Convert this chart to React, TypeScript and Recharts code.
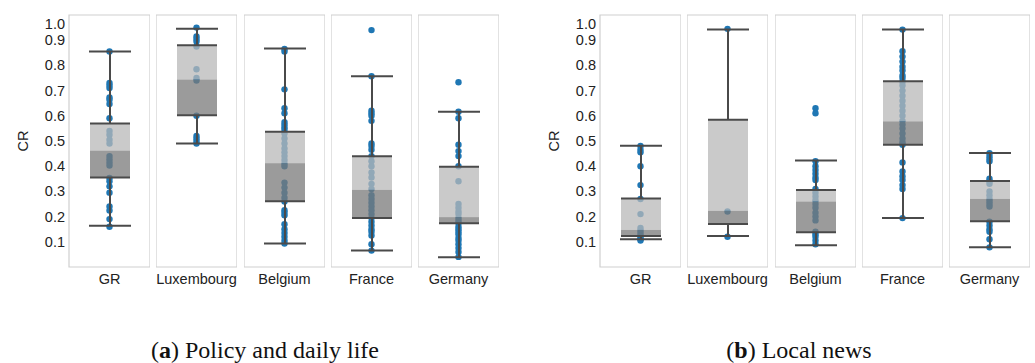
import React from "react";
import { ComposedChart, Bar, Scatter, XAxis, YAxis, ReferenceArea } from "recharts";

const COUNTRIES = ["GR", "Luxembourg", "Belgium", "France", "Germany"];
const Y_TICKS = [0.1, 0.2, 0.3, 0.4, 0.5, 0.6, 0.7, 0.8, 0.9, 1.0];

// (a) Policy and daily life — individual CR values
const POLICY_GR = [0.855, 0.73, 0.72, 0.71, 0.673, 0.664, 0.647, 0.59, 0.54, 0.525, 0.505, 0.49, 0.44, 0.428, 0.415, 0.403, 0.353, 0.34, 0.32, 0.295, 0.24, 0.224, 0.19, 0.16];
const POLICY_LU = [0.95, 0.915, 0.905, 0.895, 0.875, 0.785, 0.75, 0.74, 0.6, 0.52, 0.51, 0.5, 0.49];
const POLICY_BE = [0.865, 0.855, 0.705, 0.63, 0.61, 0.575, 0.565, 0.555, 0.545, 0.53, 0.51, 0.49, 0.47, 0.455, 0.44, 0.425, 0.41, 0.4, 0.335, 0.315, 0.295, 0.275, 0.26, 0.225, 0.215, 0.205, 0.17, 0.15, 0.135, 0.12, 0.105, 0.093];
const POLICY_FR = [0.94, 0.757, 0.62, 0.61, 0.6, 0.58, 0.49, 0.48, 0.465, 0.44, 0.42, 0.4, 0.375, 0.355, 0.33, 0.31, 0.285, 0.27, 0.255, 0.24, 0.225, 0.21, 0.195, 0.18, 0.165, 0.15, 0.14, 0.125, 0.09, 0.065];
const POLICY_DE = [0.733, 0.616, 0.59, 0.485, 0.46, 0.44, 0.4, 0.34, 0.25, 0.235, 0.22, 0.21, 0.195, 0.185, 0.175, 0.16, 0.15, 0.14, 0.13, 0.115, 0.105, 0.09, 0.075, 0.06, 0.04];

// box stats: [lower whisker, q1, median, q3, upper whisker]
const POLICY_BOX_GR = [0.164, 0.355, 0.462, 0.569, 0.855];
const POLICY_BOX_LU = [0.49, 0.602, 0.744, 0.88, 0.945];
const POLICY_BOX_BE = [0.093, 0.261, 0.412, 0.537, 0.867];
const POLICY_BOX_FR = [0.065, 0.194, 0.306, 0.439, 0.757];
const POLICY_BOX_DE = [0.039, 0.174, 0.198, 0.398, 0.616];

// (b) Local news
const LOCAL_GR = [0.48, 0.465, 0.455, 0.4, 0.325, 0.27, 0.21, 0.155, 0.145, 0.135, 0.125, 0.115, 0.11, 0.105];
const LOCAL_LU = [0.945, 0.22, 0.12];
const LOCAL_BE = [0.63, 0.61, 0.42, 0.4, 0.385, 0.37, 0.355, 0.345, 0.31, 0.295, 0.28, 0.265, 0.25, 0.235, 0.215, 0.2, 0.185, 0.14, 0.13, 0.12, 0.105, 0.09];
const LOCAL_FR = [0.942, 0.856, 0.835, 0.815, 0.795, 0.78, 0.76, 0.75, 0.735, 0.72, 0.7, 0.68, 0.66, 0.64, 0.62, 0.6, 0.58, 0.565, 0.55, 0.53, 0.51, 0.495, 0.485, 0.415, 0.379, 0.36, 0.345, 0.325, 0.31, 0.194];
const LOCAL_DE = [0.452, 0.44, 0.43, 0.42, 0.35, 0.34, 0.33, 0.3, 0.285, 0.27, 0.26, 0.25, 0.24, 0.18, 0.165, 0.15, 0.14, 0.11, 0.078];

const LOCAL_BOX_GR = [0.11, 0.123, 0.147, 0.272, 0.481];
const LOCAL_BOX_LU = [0.123, 0.171, 0.223, 0.584, 0.942];
const LOCAL_BOX_BE = [0.086, 0.138, 0.26, 0.306, 0.423];
const LOCAL_BOX_FR = [0.194, 0.485, 0.578, 0.737, 0.942];
const LOCAL_BOX_DE = [0.078, 0.182, 0.27, 0.341, 0.452];

const POLICY_POINTS = [POLICY_GR, POLICY_LU, POLICY_BE, POLICY_FR, POLICY_DE];
const POLICY_BOXES = [POLICY_BOX_GR, POLICY_BOX_LU, POLICY_BOX_BE, POLICY_BOX_FR, POLICY_BOX_DE];
const LOCAL_POINTS = [LOCAL_GR, LOCAL_LU, LOCAL_BE, LOCAL_FR, LOCAL_DE];
const LOCAL_BOXES = [LOCAL_BOX_GR, LOCAL_BOX_LU, LOCAL_BOX_BE, LOCAL_BOX_FR, LOCAL_BOX_DE];

const BLUE = "#1f77b4";
const LIGHT = "#b8b8b8";
const DARK = "#7a7a7a";
const LINE = "#4a4a4a";
const FRAME = "#cfcfcf";

const FACET_W = 81;
const FACET_STEP = 87.25;
const PLOT_TOP = 15;
const PLOT_H = 252;
const AXIS_W = 69;
const CHART_H = PLOT_TOP + PLOT_H + 30;

function BoxShape(props: any) {
  const { x, y, width, height, payload } = props;
  const [lo, q1, med, q3, hi] = payload.stats;
  // pixel position from the bar's own [lo, hi] extent
  const px = (v: number) => y + (height * (hi - v)) / (hi - lo);
  const cx = x + width / 2;
  return (
    <g>
      <line x1={cx} x2={cx} y1={px(hi)} y2={px(q3)} stroke={LINE} strokeWidth={2} />
      <line x1={cx} x2={cx} y1={px(q1)} y2={px(lo)} stroke={LINE} strokeWidth={2} />
      <rect x={x} y={px(q3)} width={width} height={px(med) - px(q3)} fill={LIGHT} fillOpacity={0.75} />
      <rect x={x} y={px(med)} width={width} height={px(q1) - px(med)} fill={DARK} fillOpacity={0.75} />
      <line x1={x} x2={x + width} y1={px(q3)} y2={px(q3)} stroke={LINE} strokeWidth={2} />
      <line x1={x} x2={x + width} y1={px(q1)} y2={px(q1)} stroke={LINE} strokeWidth={2} />
      <line x1={x - 1} x2={x + width + 1} y1={px(hi)} y2={px(hi)} stroke={LINE} strokeWidth={2} />
      <line x1={x - 1} x2={x + width + 1} y1={px(lo)} y2={px(lo)} stroke={LINE} strokeWidth={2} />
    </g>
  );
}

function YTick(props: any) {
  const { x, y, payload } = props;
  const shift = payload.value >= 1 ? 9 : 0;
  return (
    <text x={x} y={y + shift} textAnchor="end" dominantBaseline="central" fontSize={14.5} fill="#222">
      {Number(payload.value).toFixed(1)}
    </text>
  );
}

function Facet({ left, country, points, box, showAxis }: any) {
  const data = [{ name: country, range: [box[0], box[4]], stats: box }];
  const scatterData = points.map((v: number) => ({ name: country, cr: v }));
  const width = FACET_W + (showAxis ? AXIS_W : 0);
  return (
    <div style={{ position: "absolute", left: showAxis ? left - AXIS_W : left, top: 0 }}>
      <ComposedChart
        width={width}
        height={CHART_H}
        data={data}
        margin={{ top: PLOT_TOP, right: 0, bottom: 0, left: 0 }}
      >
        <XAxis
          dataKey="name"
          type="category"
          allowDuplicatedCategory={false}
          height={30}
          tickLine={false}
          axisLine={false}
          tickMargin={1}
          interval={0}
          tick={{ fontSize: 14.5, fill: "#222" }}
        />
        <YAxis
          type="number"
          domain={[0, 1]}
          ticks={Y_TICKS}
          hide={!showAxis}
          width={AXIS_W}
          tickLine={false}
          axisLine={false}
          tickSize={0}
          tickMargin={4}
          tick={YTick}
          label={{ value: "CR", angle: -90, position: "center", dx: -12, fontSize: 14.5, fill: "#222" }}
        />
        <ReferenceArea y1={0} y2={1} fill="none" stroke={FRAME} strokeWidth={1.2} ifOverflow="visible" />
        <Scatter
          data={scatterData}
          dataKey="cr"
          isAnimationActive={false}
          zIndex={100}
          shape={(p: any) => <circle cx={p.cx} cy={p.cy} r={3.2} fill={BLUE} />}
        />
        <Bar dataKey="range" barSize={40} isAnimationActive={false} zIndex={700} shape={BoxShape} />
      </ComposedChart>
    </div>
  );
}

function Panel({ base, points, boxes }: any) {
  return (
    <>
      {COUNTRIES.map((c, i) => (
        <Facet
          key={c}
          left={base + i * FACET_STEP}
          country={c}
          points={points[i]}
          box={boxes[i]}
          showAxis={i === 0}
        />
      ))}
    </>
  );
}

const captionStyle: React.CSSProperties = {
  position: "absolute",
  top: 337,
  textAlign: "center",
  fontFamily: "'Liberation Serif', serif",
  fontSize: 24,
  color: "#111",
};

export default function App() {
  return (
    <div
      style={{
        position: "absolute",
        left: 0,
        top: 0,
        width: 1035,
        height: 363,
        background: "#fff",
        fontFamily: "'Liberation Sans', Arial, sans-serif",
      }}
    >
      <Panel base={69} points={POLICY_POINTS} boxes={POLICY_BOXES} />
      <Panel base={600} points={LOCAL_POINTS} boxes={LOCAL_BOXES} />
      <div style={{ ...captionStyle, left: 0, width: 530 }}>
        (<b>a</b>) Policy and daily life
      </div>
      <div style={{ ...captionStyle, left: 564, width: 470 }}>
        (<b>b</b>) Local news
      </div>
    </div>
  );
}
